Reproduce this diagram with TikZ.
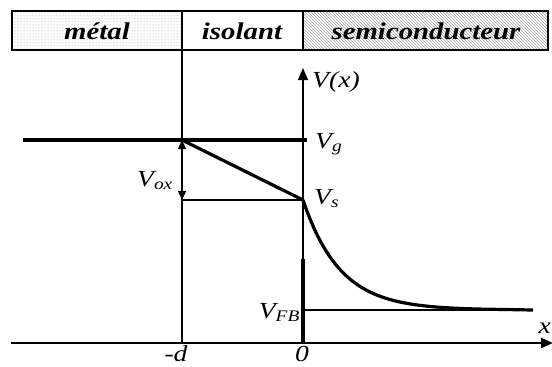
\documentclass[tikz,border=0pt]{standalone}
\usepackage{fontspec}
\setmainfont[FakeStretch=1.2]{Liberation Serif}
\usetikzlibrary{arrows.meta,patterns}
\tikzset{
  hd/.style={font=\fontsize{24}{28}\selectfont\bfseries\itshape,inner sep=0pt},
  lab/.style={font=\fontsize{23}{27}\selectfont\itshape,inner sep=0pt},
  band/.style={draw,line width=1.8pt},
  fine/.style={line width=1.3pt},
  bold/.style={line width=3.2pt},
  ax/.style={line width=2.2pt,-{Triangle[length=12pt,width=10pt]}}
}
\begin{document}
\begin{tikzpicture}[x=1pt,y=-1pt]
\useasboundingbox (0,0) rectangle (552,367);
% bandeau du haut
\path[band,pattern=dots,pattern color=gray!75] (12,11) rectangle (182,50);
\path[band] (182,11) rectangle (303,50);
\path[band,pattern=north west lines,pattern color=gray!75] (303,11) rectangle (548,50);
\node[hd,anchor=base] (met) at (97,39) {métal};
\node[hd,anchor=base] (iso) at (242,39) {isolant};
\node[hd,anchor=base] (sc) at (426,39) {semiconducteur};
% points utiles
\coordinate (O) at (303,343);
\coordinate (xa) at (11,343);
\coordinate (xb) at (553,343);
\coordinate (vt) at (303,68);
\coordinate (dt) at (182,50);
\coordinate (db) at (182,343);
\coordinate (g0) at (23,140);
\coordinate (g1) at (307,140);
\coordinate (gd) at (182,140);
\coordinate (sd) at (182,200);
\coordinate (s) at (303,200);
\coordinate (k) at (303,259);
\coordinate (fb) at (303,310);
\coordinate (fb1) at (533,310);
% axes
\draw[ax] (xa) -- (xb);
\draw[ax,line width=1.4pt] (O) -- (vt);
\draw[bold] (O) -- (k);
\draw[fine] (dt) -- (db);
% potentiels
\draw[bold] (g0) -- (g1);
\draw[line width=2.5pt] (sd) -- (s);
\draw[bold] (gd) -- (s);
\draw[line width=2pt] (fb) -- (fb1);
\draw[bold] (s) -- plot[domain=303:480,samples=50] (\x,{310-110*exp(-(\x-303)/37)}) -- (fb1);
\draw[fine,{Triangle[length=9pt,width=8pt]}-{Triangle[length=9pt,width=8pt]}] (gd) -- (sd);
% textes
\node[lab,anchor=base west] (vx) at (312,87) {V(x)};
\node[lab,anchor=base west] (vg) at (315,148) {V\textsubscript{g}};
\node[lab,anchor=base west] (vs) at (314,204) {V\textsubscript{s}};
\node[lab,anchor=base east] (vfb) at (300,318) {V\textsubscript{FB}};
\node[lab,anchor=base east] (vox) at (173,186) {V\textsubscript{ox}};
\node[lab,anchor=base] (zero) at (302,361) {0};
\node[lab,anchor=base] (md) at (176,361) {-d};
\node[lab,anchor=base east] (xl) at (551,333) {x};
\end{tikzpicture}
\end{document}
